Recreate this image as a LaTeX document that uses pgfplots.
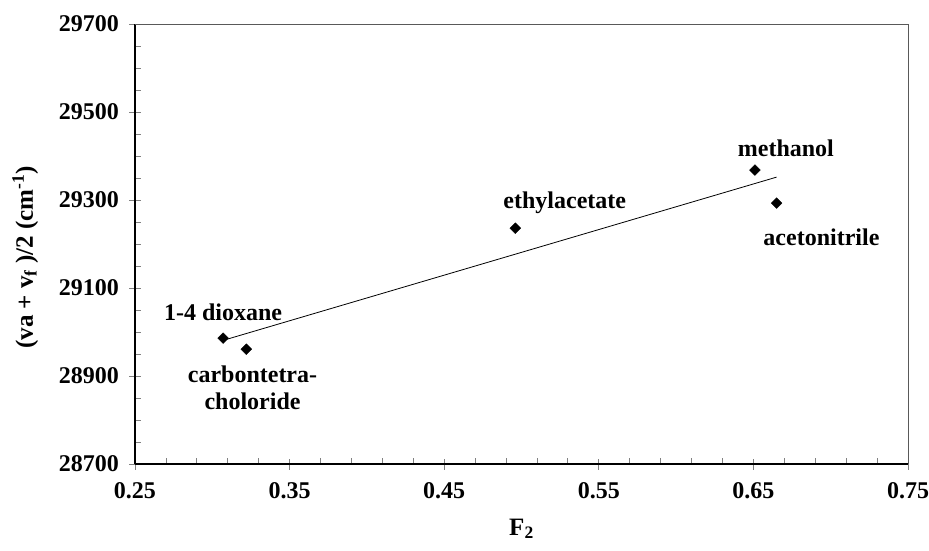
\documentclass[border=0pt]{standalone}
\usepackage{pgfplots}
\pgfplotsset{compat=1.18}
\usepackage{fontspec}
\setmainfont{Liberation Serif}
\begin{document}
\fontsize{24}{27}\selectfont\bfseries
\begin{tikzpicture}
\useasboundingbox (-135pt,-86pt) rectangle (794pt,464pt);
\begin{axis}[
  at={(0pt,0pt)}, anchor=south west,
  width=773pt, height=440pt, scale only axis,
  xmin=0.25, xmax=0.75, ymin=28700, ymax=29700,
  xtick={0.25,0.35,...,0.76}, ytick={28700,28900,...,29700},
  scaled y ticks=false, scaled x ticks=false,
  minor x tick num=4, minor y tick num=3,
  axis lines=left, axis line style={-, line width=1.2pt, black},
  tick align=inside,
  major tick length=11pt, minor tick length=6pt,
  major x tick style={yshift=-5.5pt, line width=0.8pt},
  major y tick style={xshift=-5.5pt, line width=0.8pt},
  minor tick style={line width=0.8pt},
  /pgf/number format/assume math mode=true,
  yticklabel={\pgfmathprintnumber[fixed, precision=0, 1000 sep={}, assume math mode=true]{\tick}},
  xticklabel={\pgfmathprintnumber[fixed, fixed zerofill, precision=2, assume math mode=true]{\tick}},
  ticklabel style={font=\fontsize{24}{27}\selectfont\bfseries},
  xticklabel style={yshift=-10pt},
  yticklabel style={xshift=-8pt},
  xlabel={F\textsubscript{2}},
  ylabel={(va + v\textsubscript{f} )/2 (cm\textsuperscript{-1})},
  label style={font=\fontsize{25}{28}\selectfont\bfseries},
  xlabel style={yshift=-4pt},
  ylabel style={at={(axis description cs:-0.142,0.47)}, anchor=center},
  clip=false,
]
\draw[gray!70!black, line width=0.8pt] (rel axis cs:0,1) -- (rel axis cs:1,1) -- (rel axis cs:1,0);
\addplot[black, line width=0.8pt, no marks] coordinates {(0.307,28981) (0.665,29352)};
\addplot[only marks, mark=square*, mark size=3.8pt, mark options={rotate=45}, black] coordinates {
 (0.307,28986) (0.322,28961) (0.496,29236) (0.651,29368) (0.665,29293)};
\node at (axis cs:0.307,29045) {1-4 dioxane};
\node[align=center] at (axis cs:0.326,28873) {carbontetra-\\choloride};
\node at (axis cs:0.528,29293) {ethylacetate};
\node at (axis cs:0.671,29418) {methanol};
\node at (axis cs:0.694,29216) {acetonitrile};
\end{axis}
\end{tikzpicture}
\end{document}
